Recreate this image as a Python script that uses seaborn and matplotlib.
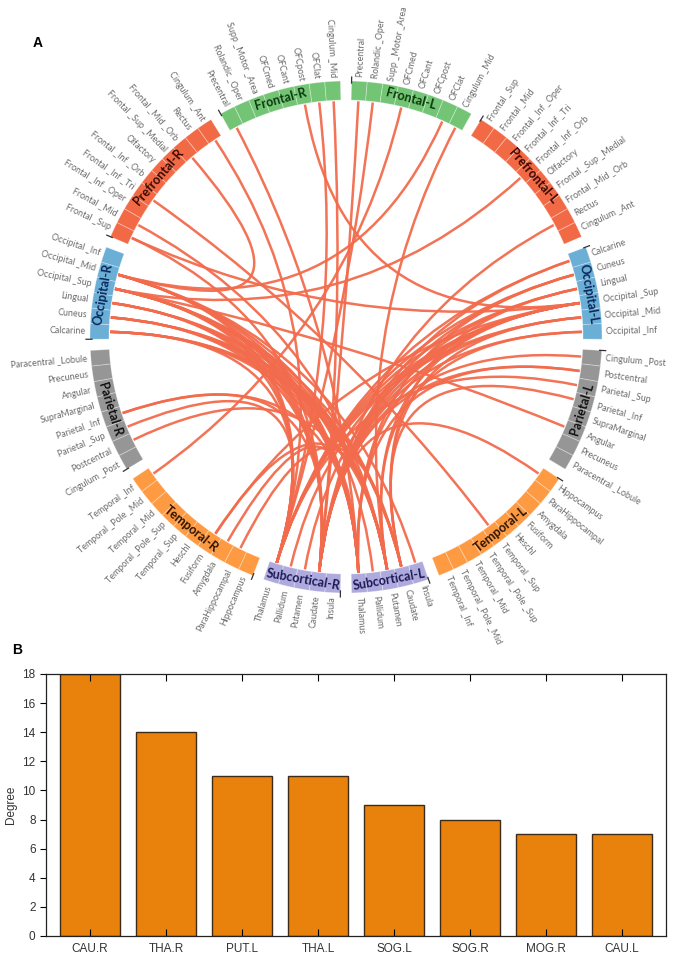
import numpy as np
import pandas as pd
import matplotlib
matplotlib.use("Agg")
import matplotlib.pyplot as plt
from matplotlib.patches import Wedge, PathPatch
from matplotlib.path import Path
import seaborn as sns

# ---- data ----
lobes = ["Frontal", "Prefrontal", "Occipital", "Parietal", "Temporal", "Subcortical"]
frontal = ["Precentral", "Rolandic _Oper", "Supp _Motor _Area", "OFCmed", "OFCant",
           "OFCpost", "OFClat", "Cingulum _Mid"]
prefrontal = ["Frontal _Sup", "Frontal _Mid", "Frontal _Inf _Oper", "Frontal _Inf _Tri",
              "Frontal _Inf _Orb", "Olfactory", "Frontal _Sup _Medial", "Frontal _Mid _Orb",
              "Rectus", "Cingulum _Ant"]
occipital = ["Calcarine", "Cuneus", "Lingual", "Occipital _Sup", "Occipital _Mid", "Occipital _Inf"]
parietal = ["Cingulum _Post", "Postcentral", "Parietal _Sup", "Parietal _Inf", "SupraMarginal",
            "Angular", "Precuneus", "Paracentral _Lobule"]
temporal = ["Hippocampus", "ParaHippocampal", "Amygdala", "Fusiform", "Heschl", "Temporal _Sup",
            "Temporal _Pole _Sup", "Temporal _Mid", "Temporal _Pole _Mid", "Temporal _Inf"]
subcortical = ["Insula", "Caudate", "Putamen", "Pallidum", "Thalamus"]
regions = dict(zip(lobes, [frontal, prefrontal, occipital, parietal, temporal, subcortical]))

lobe_colors = {"Frontal": "#74c476", "Prefrontal": "#f26a45", "Occipital": "#6baed6",
               "Parietal": "#969696", "Temporal": "#fd9a42", "Subcortical": "#aeaade"}
lobe_text = {"Frontal": "#0a3a0a", "Prefrontal": "#3a0800", "Occipital": "#08285a",
             "Parietal": "#111111", "Temporal": "#2e1200", "Subcortical": "#1c1a55"}

edges = [
    # CAU.R
    ("Caudate|R", "Calcarine|L"), ("Caudate|R", "Cuneus|L"), ("Caudate|R", "Lingual|L"),
    ("Caudate|R", "Occipital _Sup|L"), ("Caudate|R", "Occipital _Mid|L"), ("Caudate|R", "Occipital _Inf|L"),
    ("Caudate|R", "Cuneus|R"), ("Caudate|R", "Lingual|R"), ("Caudate|R", "Occipital _Sup|R"),
    ("Caudate|R", "Occipital _Mid|R"), ("Caudate|R", "Cingulum _Post|L"), ("Caudate|R", "Postcentral|L"),
    ("Caudate|R", "Precentral|L"), ("Caudate|R", "Cingulum _Mid|R"), ("Caudate|R", "Frontal _Sup|R"),
    ("Caudate|R", "Hippocampus|L"), ("Caudate|R", "Parietal _Inf|R"), ("Caudate|R", "Rectus|L"),
    # THA.R
    ("Thalamus|R", "Calcarine|L"), ("Thalamus|R", "Cuneus|L"), ("Thalamus|R", "Lingual|L"),
    ("Thalamus|R", "Occipital _Sup|L"), ("Thalamus|R", "Occipital _Mid|L"), ("Thalamus|R", "Calcarine|R"),
    ("Thalamus|R", "Occipital _Sup|R"), ("Thalamus|R", "Occipital _Mid|R"), ("Thalamus|R", "Lingual|R"),
    ("Thalamus|R", "OFClat|R"), ("Thalamus|R", "Parietal _Sup|L"), ("Thalamus|R", "Rolandic _Oper|L"),
    ("Thalamus|R", "Cingulum _Ant|R"), ("Thalamus|R", "Parietal _Sup|R"),
    # PUT.L
    ("Putamen|L", "Calcarine|R"), ("Putamen|L", "Cuneus|R"), ("Putamen|L", "Lingual|R"),
    ("Putamen|L", "Occipital _Sup|R"), ("Putamen|L", "Occipital _Mid|R"), ("Putamen|L", "Occipital _Sup|L"),
    ("Putamen|L", "Occipital _Inf|L"), ("Putamen|L", "Postcentral|R"), ("Putamen|L", "Frontal _Mid|R"),
    ("Putamen|L", "Cingulum _Mid|L"), ("Putamen|L", "Fusiform|R"),
    # THA.L
    ("Thalamus|L", "Calcarine|R"), ("Thalamus|L", "Cuneus|R"), ("Thalamus|L", "Occipital _Sup|R"),
    ("Thalamus|L", "Occipital _Mid|R"), ("Thalamus|L", "Lingual|R"), ("Thalamus|L", "Occipital _Sup|L"),
    ("Thalamus|L", "Cuneus|L"), ("Thalamus|L", "Parietal _Inf|R"), ("Thalamus|L", "Amygdala|R"),
    ("Thalamus|L", "Precentral|R"), ("Thalamus|L", "Postcentral|L"),
    # CAU.L
    ("Caudate|L", "Occipital _Sup|R"), ("Caudate|L", "Cuneus|R"), ("Caudate|L", "Calcarine|R"),
    ("Caudate|L", "Occipital _Mid|L"), ("Caudate|L", "Lingual|L"), ("Caudate|L", "ParaHippocampal|R"),
    ("Caudate|L", "Parietal _Inf|L"),
    # others
    ("Occipital _Mid|R", "Frontal _Mid _Orb|R"), ("Occipital _Mid|R", "OFClat|L"),
    ("Occipital _Mid|R", "Insula|L"),
    ("Occipital _Sup|R", "Frontal _Inf _Orb|L"), ("Occipital _Sup|R", "Angular|L"),
    ("Occipital _Sup|R", "Pallidum|L"),
    ("Occipital _Sup|L", "Fusiform|R"), ("Occipital _Sup|L", "Frontal _Sup|R"),
    ("Occipital _Sup|L", "OFCpost|R"), ("Occipital _Sup|L", "Putamen|R"),
    ("Occipital _Sup|L", "Pallidum|R"),
    ("Temporal _Inf|R", "OFCmed|L"), ("Temporal _Sup|L", "Frontal _Inf _Tri|R"),
]

hub_names = ["CAU.R", "THA.R", "PUT.L", "THA.L", "SOG.L", "SOG.R", "MOG.R", "CAU.L"]
hub_degree = [18, 14, 11, 11, 9, 8, 7, 7]

# ---- layout of the ring (figure pixels) ----
W, H = 679, 960
cx, cy = 346, H - 337
r_in, r_out = 237, 256
gap = 2.5
n_nodes = 2 * sum(len(v) for v in regions.values())
step = (360 - 12 * gap) / n_nodes

segments = [(l, "L") for l in lobes] + [(l, "R") for l in lobes[::-1]]
node_angle = {}
lobe_span = []
s = 0.0
for lobe, side in segments:
    start = s
    for name in regions[lobe]:
        node_angle[f"{name}|{side}"] = 90 - gap / 2 - (s + step / 2)
        s += step
    lobe_span.append((lobe, side, 90 - gap / 2 - start, 90 - gap / 2 - s))
    s += gap

fig = plt.figure(figsize=(6.79, 9.6), dpi=100)
ax = fig.add_axes([0, 0, 1, 1])
ax.set_xlim(0, W)
ax.set_ylim(0, H)
ax.axis("off")


def pos(theta, r):
    t = np.deg2rad(theta)
    return cx + r * np.cos(t), cy + r * np.sin(t)


# chords
for a, b in edges:
    p0 = pos(node_angle[a], r_in - 1)
    p2 = pos(node_angle[b], r_in - 1)
    path = Path([p0, (cx, cy), p2], [Path.MOVETO, Path.CURVE3, Path.CURVE3])
    ax.add_patch(PathPatch(path, facecolor="none", edgecolor="#f26b4c", lw=1.8, alpha=0.95, zorder=2))

# ring cells and labels
for lobe, side, t_start, t_end in lobe_span:
    col = lobe_colors[lobe]
    for name in regions[lobe]:
        th = node_angle[f"{name}|{side}"]
        ax.add_patch(Wedge((cx, cy), r_out, th - step / 2, th + step / 2, width=r_out - r_in,
                           facecolor=col, edgecolor=(1, 1, 1, 0.35), lw=0.6, zorder=3))
        lx, ly = pos(th, r_out + 4)
        if np.cos(np.deg2rad(th)) >= 0:
            rot, ha = th, "left"
        else:
            rot, ha = th - 180, "right"
        ax.text(lx, ly, name, rotation=rot, rotation_mode="anchor", ha=ha, va="center",
                fontsize=6.4, color="#6a6a6a", family="Lato", zorder=4)
    # small tick at lobe start
    x0, y0 = pos(t_start, r_out - 2)
    x1, y1 = pos(t_start, r_out + 4)
    ax.plot([x0, x1], [y0, y1], color="#333333", lw=0.9, zorder=4)
    mid = (t_start + t_end) / 2
    tx, ty = pos(mid, (r_in + r_out) / 2)
    rot = mid - 90 if np.sin(np.deg2rad(mid)) > -0.05 else mid + 90
    ax.text(tx, ty, f"{lobe}-{side}", rotation=rot, rotation_mode="anchor", ha="center",
            va="center", fontsize=9, fontweight="bold", color=lobe_text[lobe], family="Lato", zorder=5)

ax.text(33, H - 43, "A", fontsize=10, fontweight="bold", family="Liberation Sans", va="center")
ax.text(12, H - 650, "B", fontsize=10, fontweight="bold", family="Liberation Sans", va="center")

# ---- bar chart ----
axb = fig.add_axes([46 / W, 24 / H, 620 / W, 262 / H])
bar_df = pd.DataFrame({"node": hub_names, "degree": hub_degree})
sns.barplot(data=bar_df, x="node", y="degree", color="#e8820c", saturation=1,
            edgecolor="#3d2a18", linewidth=1.0, width=0.78, ax=axb)
axb.set_xlim(-0.58, 7.58)
axb.set_ylim(0, 18)
axb.set_yticks(range(0, 19, 2))
axb.set_xlabel("")
axb.set_ylabel("Degree", fontsize=8.5, family="Liberation Sans", color="#333333")
axb.tick_params(axis="x", direction="in", top=True, length=5, labelsize=8.5, labelcolor="#333333", pad=5)
axb.tick_params(axis="y", direction="out", length=4, labelsize=8.5, labelcolor="#333333")
for lab in axb.get_xticklabels() + axb.get_yticklabels():
    lab.set_family("Liberation Sans")
for sp in axb.spines.values():
    sp.set_color("#222222")
    sp.set_linewidth(0.9)

fig.savefig("out.png", dpi=100)
